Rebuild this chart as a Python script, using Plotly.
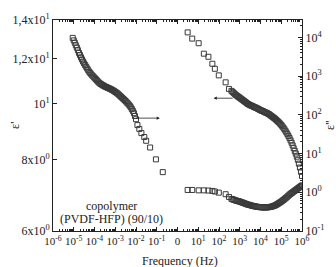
import plotly.graph_objects as go

# ---- data ----
# epsilon' (left axis): log10 of frequency (Hz) and epsilon' values
eps1_logf = [-5.05, -5.00, -4.95, -4.90, -4.85, -4.80, -4.75, -4.70, -4.65, -4.60,
             -4.55, -4.50, -4.45, -4.40, -4.35, -4.30, -4.25, -4.20, -4.15, -4.10,
             -4.05, -4.00, -3.95, -3.90, -3.85, -3.80, -3.75, -3.70, -3.65, -3.60,
             -3.55, -3.50, -3.45, -3.40, -3.35, -3.30, -3.25, -3.20, -3.15, -3.10,
             -3.05, -3.00, -2.95, -2.90, -2.85, -2.80, -2.75, -2.70, -2.65, -2.60,
             -2.55, -2.50, -2.45, -2.40, -2.35, -2.30, -2.25, -2.20, -2.15, -2.10,
             -2.05, -2.00,
             -1.93, -1.84, -1.74, -1.60, -1.51, -1.32, -1.04, -0.71]
eps1_val = [13.03, 12.90, 12.78, 12.65, 12.53, 12.40, 12.27, 12.16, 12.05, 11.95,
            11.85, 11.76, 11.68, 11.60, 11.52, 11.44, 11.37, 11.31, 11.25, 11.20,
            11.15, 11.10, 11.05, 11.00, 10.95, 10.90, 10.86, 10.83, 10.80, 10.77,
            10.75, 10.72, 10.70, 10.68, 10.66, 10.64, 10.62, 10.60, 10.57, 10.55,
            10.52, 10.49, 10.46, 10.43, 10.39, 10.35, 10.31, 10.27, 10.23, 10.19,
            10.15, 10.11, 10.06, 10.02, 9.97, 9.92, 9.86, 9.79, 9.72, 9.63,
            9.52, 9.40,
            9.18, 9.04, 8.89, 8.75, 8.62, 8.39, 8.00, 7.60]

# epsilon'' (right axis): log10 of frequency, shared by both branches
eps2_logf = [0.49, 0.71, 1.02, 1.27, 1.49, 1.68, 1.80, 1.99, 2.32, 2.48,
             2.60, 2.65, 2.70, 2.75, 2.80, 2.85, 2.90, 2.95, 3.00, 3.05,
             3.10, 3.15, 3.20, 3.25, 3.30, 3.35, 3.40, 3.45, 3.50, 3.55,
             3.60, 3.65, 3.70, 3.75, 3.80, 3.85, 3.90, 3.95, 4.00, 4.05,
             4.10, 4.15, 4.20, 4.25, 4.30, 4.35, 4.40, 4.45, 4.50, 4.55,
             4.60, 4.65, 4.70, 4.75, 4.80, 4.85, 4.90, 4.95, 5.00, 5.05,
             5.10, 5.15, 5.20, 5.25, 5.30, 5.35, 5.40, 5.45, 5.50, 5.55,
             5.60, 5.65, 5.70, 5.75, 5.80, 5.85, 5.90, 5.95, 6.00]
# upper branch, log10(epsilon'')
eps2_upper_log = [4.13, 3.97, 3.85, 3.58, 3.50, 3.32, 3.19, 3.02, 2.84, 2.67,
                  2.62, 2.595, 2.57, 2.545, 2.52, 2.50, 2.48, 2.46, 2.44, 2.42,
                  2.40, 2.38, 2.36, 2.34, 2.32, 2.30, 2.28, 2.265, 2.25, 2.24,
                  2.23, 2.215, 2.20, 2.19, 2.18, 2.165, 2.15, 2.135, 2.12, 2.11,
                  2.10, 2.085, 2.07, 2.06, 2.05, 2.035, 2.02, 2.00, 1.98, 1.96,
                  1.94, 1.92, 1.90, 1.875, 1.85, 1.825, 1.80, 1.77, 1.74, 1.705,
                  1.67, 1.63, 1.59, 1.545, 1.50, 1.45, 1.40, 1.34, 1.28, 1.21,
                  1.14, 1.07, 1.00, 0.92, 0.84, 0.74, 0.64, 0.53, 0.42]
# lower branch, log10(epsilon'')
eps2_lower_log = [0.06, 0.06, 0.05, 0.05, 0.045, 0.035, 0.02, -0.01, -0.05, -0.12,
                  -0.17, -0.18, -0.19, -0.20, -0.21, -0.218, -0.225, -0.232, -0.24, -0.25,
                  -0.26, -0.27, -0.28, -0.29, -0.30, -0.31, -0.32, -0.325, -0.33, -0.34,
                  -0.35, -0.355, -0.36, -0.365, -0.37, -0.375, -0.38, -0.383, -0.385, -0.388,
                  -0.39, -0.39, -0.39, -0.39, -0.39, -0.388, -0.385, -0.38, -0.375, -0.368,
                  -0.36, -0.35, -0.34, -0.325, -0.31, -0.293, -0.275, -0.258, -0.24, -0.22,
                  -0.20, -0.178, -0.155, -0.133, -0.11, -0.085, -0.06, -0.04, -0.02, 0.00,
                  0.02, 0.04, 0.06, 0.08, 0.10, 0.12, 0.14, 0.16, 0.18]

x_tickvals = [1e-6, 1e-5, 1e-4, 1e-3, 1e-2, 1e-1, 1, 10, 100, 1e3, 1e4, 1e5, 1e6]
x_ticktext = ['10<sup>-6</sup>', '10<sup>-5</sup>', '10<sup>-4</sup>', '10<sup>-3</sup>',
              '10<sup>-2</sup>', '10<sup>-1</sup>', '0', '10<sup>1</sup>', '10<sup>2</sup>',
              '10<sup>3</sup>', '10<sup>4</sup>', '10<sup>5</sup>', '10<sup>6</sup>']
y1_tickvals = [6, 8, 10, 12, 14]
y1_ticktext = ['6x10<sup>0</sup>', '8x10<sup>0</sup>', '10<sup>1</sup>',
               '1,2x10<sup>1</sup>', '1,4x10<sup>1</sup>']
y2_tickvals = [0.1, 1, 10, 100, 1e3, 1e4]
y2_ticktext = ['10<sup>-1</sup>', '10<sup>0</sup>', '10<sup>1</sup>', '10<sup>2</sup>',
               '10<sup>3</sup>', '10<sup>4</sup>']

FONT = 'Liberation Serif'
INK = '#222'

def pow10(lst):
    return [10 ** v for v in lst]

marker = dict(symbol='square-open', size=5, color='#3a3a3a', line=dict(width=1, color='#3a3a3a'))

fig = go.Figure()
fig.add_trace(go.Scatter(x=pow10(eps1_logf), y=eps1_val, mode='markers', marker=marker,
                         xaxis='x', yaxis='y', showlegend=False))
fig.add_trace(go.Scatter(x=pow10(eps2_logf), y=pow10(eps2_upper_log), mode='markers', marker=marker,
                         xaxis='x', yaxis='y2', showlegend=False))
fig.add_trace(go.Scatter(x=pow10(eps2_logf), y=pow10(eps2_lower_log), mode='markers', marker=marker,
                         xaxis='x', yaxis='y2', showlegend=False))

axis_common = dict(showgrid=False, zeroline=False, showline=True, linecolor=INK,
                   linewidth=1, ticks='inside', tickcolor=INK, ticklen=4)

fig.update_layout(
    width=336, height=267,
    margin=dict(l=46, r=34, t=15, b=36),
    paper_bgcolor='white', plot_bgcolor='white',
    font=dict(family=FONT, size=12, color=INK),
    xaxis=dict(type='log', range=[-6, 6], tickmode='array', tickvals=x_tickvals,
               ticktext=x_ticktext, mirror='ticks', tickangle=0,
               tickfont=dict(family=FONT, size=11, color=INK),
               minor=dict(ticks='inside', ticklen=2, dtick='D1', tickcolor=INK, showgrid=False),
               **axis_common),
    yaxis=dict(type='log', range=[0.77815, 1.14613], tickmode='array', tickvals=y1_tickvals,
               ticktext=y1_ticktext, side='left',
               tickfont=dict(family=FONT, size=12, color=INK), **axis_common),
    yaxis2=dict(type='log', range=[-1, 4.45], tickmode='array', tickvals=y2_tickvals,
                ticktext=y2_ticktext, side='right', overlaying='y',
                tickfont=dict(family=FONT, size=12, color=INK),
                minor=dict(ticks='inside', ticklen=2, dtick='D1', tickcolor=INK, showgrid=False),
                **axis_common),
)

txt = dict(family=FONT, size=12, color=INK)
ann = []
# arrows
ann.append(dict(x=-0.85, y=0.975, ax=-2.07, ay=0.975, xref='x', yref='y', axref='x', ayref='y',
                showarrow=True, arrowhead=2, arrowsize=0.8, arrowwidth=0.8, arrowcolor=INK, text=''))
ann.append(dict(x=1.74, y=2.43, ax=2.73, ay=2.43, xref='x', yref='y2', axref='x', ayref='y2',
                showarrow=True, arrowhead=2, arrowsize=0.8, arrowwidth=0.8, arrowcolor=INK, text=''))
# labels
ann.append(dict(x=0.234, y=0.118, xref='paper', yref='paper', xanchor='center', yanchor='middle',
                text='copolymer', showarrow=False, font=txt))
ann.append(dict(x=0.234, y=0.056, xref='paper', yref='paper', xanchor='center', yanchor='middle',
                text='(PVDF-HFP) (90/10)', showarrow=False, font=txt))
ann.append(dict(x=-0.155, y=0.5, xref='paper', yref='paper', xanchor='center', yanchor='middle',
                text="ε'", textangle=-90, showarrow=False, font=txt))
ann.append(dict(x=1.11, y=0.5, xref='paper', yref='paper', xanchor='center', yanchor='middle',
                text="ε''", textangle=-90, showarrow=False, font=txt))
ann.append(dict(x=0.512, y=-0.144, xref='paper', yref='paper', xanchor='center', yanchor='middle',
                text='Frequency (Hz)', showarrow=False, font=txt))
fig.update_layout(annotations=ann)

fig.write_html('out.html')
